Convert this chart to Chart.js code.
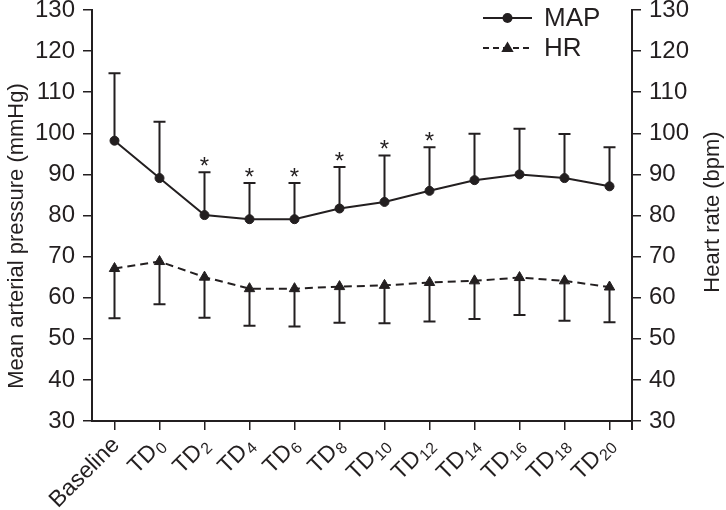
<!DOCTYPE html>
<html>
<head>
<meta charset="utf-8">
<script src="https://cdn.jsdelivr.net/npm/chart.js@4/dist/chart.umd.min.js"></script>
<style>
  html, body { margin: 0; padding: 0; background: #fff; }
  #wrap { width: 726px; height: 510px; }
</style>
</head>
<body>
<div id="wrap"><canvas id="chart" width="726" height="510"></canvas></div>
<script>
"use strict";

// ── Data ───────────────────────────────────────────────────
// trailing digits of each label are drawn as a subscript (TD0 -> TD₀)
const categories = ["Baseline", "TD0", "TD2", "TD4", "TD6", "TD8",
  "TD10", "TD12", "TD14", "TD16", "TD18", "TD20"];

const mapMean  = [98.2, 89.1, 80.1, 79.1, 79.1, 81.7, 83.3, 86.0, 88.6, 90.0, 89.1, 87.1];
const mapUpper = [114.6, 102.8, 90.5, 87.9, 87.9, 91.8, 94.6, 96.6, 99.9, 101.1, 99.8, 96.6];
const hrMean   = [67.1, 68.8, 65.0, 62.2, 62.2, 62.7, 63.0, 63.7, 64.1, 64.9, 64.1, 62.6];
const hrLower  = [55.0, 58.4, 55.1, 53.2, 53.0, 53.9, 53.8, 54.2, 54.8, 55.8, 54.4, 54.0];
// * = significant vs baseline (MAP)
const significant = [false, false, true, true, true, true, true, true, false, false, false, false];

const yTicks = [30, 40, 50, 60, 70, 80, 90, 100, 110, 120, 130];
const leftTitle = "Mean arterial pressure (mmHg)";
const rightTitle = "Heart rate (bpm)";

const INK = "#231f20";
const FONT = "'Liberation Sans', Arial, sans-serif";

// ── Error bars (one-sided) + significance stars ────────────
const errorBarPlugin = {
  id: "errorBars",
  beforeDatasetsDraw(chart) {
    const { ctx, scales } = chart;
    const x = scales.x, yL = scales.y, yR = scales.y1;
    ctx.save();
    ctx.strokeStyle = INK;
    ctx.lineWidth = 2;
    const cap = 6;
    categories.forEach((_, i) => {
      const px = x.getPixelForValue(i);
      // MAP: upward
      const y0 = yL.getPixelForValue(mapMean[i]);
      const y1 = yL.getPixelForValue(mapUpper[i]);
      ctx.beginPath();
      ctx.moveTo(px, y0); ctx.lineTo(px, y1);
      ctx.moveTo(px - cap, y1); ctx.lineTo(px + cap, y1);
      ctx.stroke();
      // HR: downward
      const h0 = yR.getPixelForValue(hrMean[i]);
      const h1 = yR.getPixelForValue(hrLower[i]);
      ctx.beginPath();
      ctx.moveTo(px, h0); ctx.lineTo(px, h1);
      ctx.moveTo(px - cap, h1); ctx.lineTo(px + cap, h1);
      ctx.stroke();
    });
    ctx.restore();
  },
  afterDatasetsDraw(chart) {
    const { ctx, scales } = chart;
    ctx.save();
    ctx.fillStyle = INK;
    ctx.font = `24px ${FONT}`;
    ctx.textAlign = "center";
    ctx.textBaseline = "alphabetic";
    categories.forEach((_, i) => {
      if (!significant[i]) return;
      const px = scales.x.getPixelForValue(i);
      const py = scales.y.getPixelForValue(mapUpper[i]);
      ctx.fillText("*", px, py + 2);
    });
    ctx.restore();
  },
};

// ── Rotated category labels with subscript digits ──────────
const subLabelPlugin = {
  id: "subLabels",
  afterDraw(chart) {
    const { ctx, chartArea, scales } = chart;
    ctx.save();
    ctx.fillStyle = INK;
    ctx.textBaseline = "alphabetic";
    ctx.textAlign = "right";
    chart.data.labels.forEach((lab, i) => {
      const m = /^(\D+)(\d*)$/.exec(lab);
      const main = m ? m[1] : lab;
      const sub = m ? m[2] : "";
      const px = scales.x.getPixelForValue(i);
      ctx.save();
      ctx.translate(px + 6, chartArea.bottom + 25);
      ctx.rotate(-Math.PI / 4);
      let end = 0;
      if (sub) {
        ctx.font = `16px ${FONT}`;
        ctx.fillText(sub, 0, 4);
        end = -ctx.measureText(sub).width - 1;
      }
      ctx.font = `23px ${FONT}`;
      ctx.fillText(main, end, 0);
      ctx.restore();
    });
    ctx.restore();
  },
};

// ── Line + marker legend, top right ────────────────────────
const lineLegendPlugin = {
  id: "lineLegend",
  afterDraw(chart) {
    const { ctx } = chart;
    const rows = [
      { ds: chart.data.datasets[0], y: 18 },
      { ds: chart.data.datasets[1], y: 48 },
    ];
    const x0 = 483, x1 = 532, xm = (x0 + x1) / 2;
    ctx.save();
    rows.forEach(({ ds, y }) => {
      ctx.strokeStyle = INK;
      ctx.fillStyle = INK;
      ctx.lineWidth = 2;
      ctx.setLineDash(ds.borderDash && ds.borderDash.length ? [6, 4] : []);
      ctx.beginPath();
      ctx.moveTo(x0, y); ctx.lineTo(x1, y);
      ctx.stroke();
      ctx.setLineDash([]);
      ctx.beginPath();
      if (ds.pointStyle === "triangle") {
        const r = 6.5;
        ctx.moveTo(xm, y - r);
        ctx.lineTo(xm + r * 0.95, y + r * 0.6);
        ctx.lineTo(xm - r * 0.95, y + r * 0.6);
        ctx.closePath();
      } else {
        ctx.arc(xm, y, 5, 0, Math.PI * 2);
      }
      ctx.fill();
      ctx.font = `26px ${FONT}`;
      ctx.textAlign = "left";
      ctx.textBaseline = "middle";
      ctx.fillText(ds.label, 544, y + 1);
    });
    ctx.restore();
  },
};

// axis titles (both read bottom-to-top) + right-axis stub below the x-axis
const axisDecorPlugin = {
  id: "axisDecor",
  afterDraw(chart) {
    const { ctx, chartArea } = chart;
    ctx.save();
    ctx.strokeStyle = INK;
    ctx.lineWidth = 2;
    ctx.beginPath();
    ctx.moveTo(chartArea.right, chartArea.bottom);
    ctx.lineTo(chartArea.right, chartArea.bottom + 9);
    ctx.stroke();

    ctx.fillStyle = INK;
    ctx.font = `22px ${FONT}`;
    ctx.textAlign = "center";
    ctx.textBaseline = "middle";
    [[leftTitle, 17, 236], [rightTitle, 713, 212]].forEach(([txt, x, y]) => {
      ctx.save();
      ctx.translate(x, y);
      ctx.rotate(-Math.PI / 2);
      ctx.fillText(txt, 0, 0);
      ctx.restore();
    });
    ctx.restore();
  },
};

const tickFont = { family: FONT, size: 24 };

// fixed axis boxes so the plot area lands where the figure has it
function fitY(axis) {
  axis.width = 57;
  axis.paddingTop = 0;
  axis.paddingBottom = 0;
}
function fitX(axis) {
  axis.height = 85;
  axis.paddingLeft = 0;
  axis.paddingRight = 0;
}

const axisCommon = {
  min: 30,
  max: 130,
  afterBuildTicks: (axis) => { axis.ticks = yTicks.map((v) => ({ value: v })); },
  afterFit: fitY,
  grid: { drawOnChartArea: false, color: INK, lineWidth: 1.5, tickLength: 9 },
  border: { color: INK, width: 2 },
};

new Chart(document.getElementById("chart").getContext("2d"), {
  type: "line",
  data: {
    labels: categories,
    datasets: [
      {
        label: "MAP",
        data: mapMean,
        yAxisID: "y",
        borderColor: INK,
        backgroundColor: INK,
        borderWidth: 2,
        pointStyle: "circle",
        pointRadius: 4.5,
        pointBorderWidth: 1,
        tension: 0,
      },
      {
        label: "HR",
        data: hrMean,
        yAxisID: "y1",
        borderColor: INK,
        backgroundColor: INK,
        borderWidth: 2,
        borderDash: [8, 5],
        pointStyle: "triangle",
        pointRadius: 6,
        pointBorderWidth: 1,
        tension: 0,
      },
    ],
  },
  options: {
    responsive: false,
    animation: false,
    layout: { padding: { left: 35, right: 37, top: 10, bottom: 4 } },
    plugins: {
      legend: { display: false },
      tooltip: { enabled: false },
    },
    scales: {
      x: {
        offset: true,
        afterFit: fitX,
        grid: { drawOnChartArea: false, color: INK, lineWidth: 1.5, tickLength: 9 },
        border: { color: INK, width: 2 },
        ticks: { display: false },
      },
      y: {
        ...axisCommon,
        position: "left",
        ticks: { color: INK, font: tickFont, padding: 8 },
      },
      y1: {
        ...axisCommon,
        position: "right",
        ticks: { color: INK, font: tickFont, padding: 8 },
      },
    },
  },
  plugins: [errorBarPlugin, subLabelPlugin, lineLegendPlugin, axisDecorPlugin],
});
</script>
</body>
</html>
